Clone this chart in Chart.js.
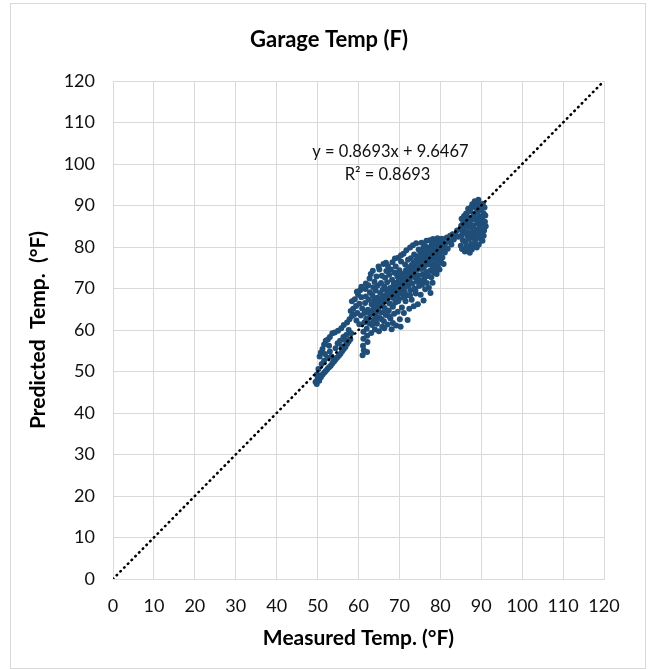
<!DOCTYPE HTML>
<html>
  <head>
    <script src="https://cdn.jsdelivr.net/npm/chart.js"></script>
    <style>
      body { margin: 0; background: #fff; }
    </style>
  </head>
  <body>
    <div style="position: relative; width: 654px; height: 669px;">
      <div style="position: absolute; left: 10px; top: 3px; width: 634px; height: 664px; border: 1px solid #D9D9D9;"></div>
      <canvas id="garage-chart" width="654" height="669"></canvas>
    </div>

    <script>
      // measured vs predicted readings as [measured, predicted]
      const lowerGroup = [
        [49.5,47.5],[49.8,47],[50,48.2],[50.4,47.8],[50.8,48.6],[51.2,49.2],[51.6,49.7],[52,50.1],[52.4,50.6],[52.8,51],
        [53.2,51.4],[53.6,51.9],[54,52.4],[54.4,52.9],[54.8,53.4],[55.2,53.8],[55.6,54.3],[56,54.9],[56.4,55.4],[56.8,55.9],
        [57.2,56.6],[57.6,57.2],[58,57.8],
        [50.5,53.6],[50.8,54.6],[51.2,55.4],[51.6,56.5],[52,57.4],[52.5,57.7],[53,58.3],[53.6,59.2],[54.2,59.4],[55,59.8],
        [55.8,60.4],[56.4,61.2],[57.2,61.8],[57.8,62.6],[58.4,63.4],
        [49.8,49.2],[50.2,50.6],[51,51.8],[51.6,52.6],[52.4,53.3],[53,54.8],[53.9,52.4],[54.4,55.6],[54.9,56.8],[55.5,57.4],
        [56.3,58.3],[57,58.8],[57.6,60],[58.2,59.2],[51.8,54.2],[52.8,56.2],[50.3,49.1],[53.4,53.6],[55.9,56.1],[56.9,57.4]
      ];

      const middleGroup = [
        [58.1,64.6],[58.4,66.9],[58.7,65.1],[58.9,63.7],[59.1,67.4],[59.4,65.8],[59.5,62.3],[59.7,64.1],[59.9,68.5],[60.2,66.3],
        [60.2,61.4],[60.4,69.6],[60.6,63.5],[60.7,67.9],[60.9,65.2],
        [61.0,53.9],[61.1,56.2],[61.2,57.9],[61.3,55.1],[61.2,59.6],[61.4,61.8],[61.5,64.1],[61.6,66.5],[61.7,69.9],[61.8,68.1],
        [61.9,62.7],[62.0,60.3],[62.1,54.7],[62.1,58.6],[62.2,57.1],[62.3,64.9],[62.4,70.8],[62.5,67.3],[62.6,61.6],[62.7,72.4],
        [62.8,69.1],[62.9,63.8],
        [63.0,73.5],[63.1,59.3],[63.2,66.2],[63.3,61.2],[63.4,68.4],[63.5,64.7],[63.6,70.3],[63.7,62.5],[63.8,67.2],[63.9,71.6],
        [64.0,60.1],[64.1,65.9],[64.2,69.5],[64.3,63.4],[64.4,72.9],[64.5,61.5],[64.6,67.8],[64.7,70.7],[64.8,64.6],[64.9,66.3],
        [65.0,59.7],[65.1,74.6],[65.2,62.9],[65.3,68.9],[65.4,66.1],[65.5,71.3],[65.6,64.2],[65.7,73.1],[65.8,60.8],[65.9,69.7],
        [66.0,67.4],[66.1,75.9],[66.2,62.1],[66.3,70.4],[66.4,65.3],[66.5,72.6],[66.6,68.3],[66.7,63.6],[66.8,74.2],[66.9,66.9],
        [66.3,60.4],
        [67.0,71.5],[67.1,61.3],[67.2,75.4],[67.3,68.8],[67.4,64.7],[67.5,73.3],[67.6,66.4],[67.7,70.1],[67.8,62.8],[67.9,74.6],
        [68.0,69.3],[68.1,60.2],[68.2,72.1],[68.3,76.3],[68.4,65.6],[68.5,67.7],[68.6,71.0],[68.7,63.9],[68.8,73.8],[68.9,69.9],
        [68.4,61.7],[67.6,68.0],
        [69.0,66.6],[69.1,75.3],[69.2,61.1],[69.3,70.7],[69.4,68.2],[69.5,72.9],[69.6,64.4],[69.7,77.4],[69.8,71.8],[69.9,67.5],
        [70.0,74.4],[70.1,62.6],[70.2,69.4],[70.3,60.8],[70.4,76.5],[70.5,71.1],[70.6,65.4],[70.7,73.5],[70.8,68.6],[70.9,70.2],
        [69.4,73.6],[70.3,72.4],[69.8,69.0],
        [71.0,78.4],[71.1,64.1],[71.2,72.7],[71.3,69.1],[71.4,75.8],[71.5,66.9],[71.6,71.4],[71.7,79.2],[71.8,73.9],[71.9,68.3],
        [72.0,62.4],[72.1,76.9],[72.2,70.5],[72.3,74.8],[72.4,65.1],[72.5,72.2],[72.6,79.9],[72.7,69.6],[72.8,77.3],[72.9,73.1],
        [71.3,70.3],[72.2,71.7],[71.6,74.4],
        [73.0,67.3],[73.1,75.7],[73.2,71.2],[73.3,80.4],[73.4,73.8],[73.5,65.7],[73.6,78.2],[73.7,70.0],[73.8,76.1],[73.9,72.6],
        [74.0,68.8],[74.1,80.9],[74.2,74.5],[74.3,71.7],[74.4,77.7],[74.5,66.2],[74.6,73.2],[74.7,79.4],[74.8,70.6],[74.9,75.9],
        [73.6,74.9],[74.3,76.4],
        [75.0,72.0],[75.1,78.8],[75.2,68.5],[75.3,74.7],[75.4,81.0],[75.5,70.9],[75.6,76.7],[75.7,73.4],[75.8,79.7],[75.9,67.1],
        [76.0,75.2],[76.1,72.5],[76.2,80.3],[76.3,69.8],[76.4,77.4],[76.5,74.0],[76.6,81.5],[76.7,71.3],[76.8,78.5],[76.9,75.8],
        [75.4,77.3],[76.2,76.1],
        [77.0,73.0],[77.1,79.9],[77.2,70.2],[77.3,76.6],[77.4,81.6],[77.5,74.3],[77.6,68.9],[77.7,78.1],[77.8,72.7],[77.9,80.6],
        [78.0,75.5],[78.1,71.4],[78.2,81.9],[78.3,77.2],[78.4,73.9],[78.5,79.6],[78.6,76.0],[78.7,81.0],[78.8,74.7],[78.9,78.4],
        [77.4,77.0],
        [79.0,80.2],[79.1,73.5],[79.2,77.8],[79.3,82.1],[79.4,75.4],[79.5,79.1],[79.6,76.8],[79.7,81.4],[79.8,74.6],[79.9,78.6],
        [80.0,80.7],[80.2,76.3],[80.3,79.3],[80.5,77.5],[80.6,81.2],[80.8,75.9],[80.9,79.9],[80.4,82.0],
        [81.1,78.7],[81.3,80.9],[81.6,82.3],[81.8,79.6],[82.1,81.4],[82.4,82.7],[82.7,80.6],[83.0,83.1],[83.3,81.8],[83.7,82.9],
        [84.1,84.0],[84.4,82.5]
      ];

      // densest readings, along the 1:1 line
      const coreGroup = [
        [62.3,62.8],[62.8,64.1],[63.2,63.9],[63.7,65.3],[64.1,64.5],[64.5,66.8],[65,65.6],[65.3,67.5],[65.8,66.4],[66.2,68.1],
        [66.6,67.2],[67,69.4],[67.3,67.9],[67.8,69.7],[68.1,68.5],[68.5,70.3],[68.9,69.2],[69.2,71.4],[69.6,70.1],[70,71.9],
        [70.3,70.8],[70.7,72.7],[71,71.6],[71.4,73.1],[71.8,72.3],[72.1,74.2],[72.5,73.5],[72.8,75.4],[73.2,74.1],[73.5,76.2],
        [73.9,74.9],[74.2,76.9],[74.6,75.6],[75,77.8],[75.3,76.4],[75.7,78.3],[76.1,77.1],[76.4,79.1],[76.8,77.7],[77.2,79.6],
        [77.5,78.4],[77.9,80.3],[78.3,79.2],[78.6,80.8],[79,79.6],[79.4,81.1],[79.8,80.1],
        [66.9,64.2],[68.3,65.9],[69.7,66.9],[71.1,67.8],[72.6,68.4],[73.9,69.6],[75.6,71.6],[76.9,73.4],[78.3,75.1],[64.2,62.2],
        [65.6,62.6],[67.5,63.3],
        [61.8,71.2],[63.5,74.3],[64.9,75.3],[66.7,76.2],[68.9,77.2],[70.4,78.0],[60.7,70.4],[59.6,69.2]
      ];

      const upperGroup = [
        [85.0,80.3],[85.1,82.7],[85.1,85.1],[85.2,86.8],[85.3,79.5],[85.4,83.9],[85.5,81.6],[85.6,86.0],[85.7,84.4],[85.8,87.5],
        [86.0,78.9],[86.1,81.2],[86.1,83.4],[86.2,85.7],[86.3,88.1],[86.4,80.1],[86.5,86.9],[86.6,82.6],[86.7,84.8],[86.8,89.2],
        [86.9,79.7],[86.4,87.9],[86.8,83.5],
        [87.0,81.9],[87.1,85.9],[87.2,78.6],[87.3,88.6],[87.4,83.2],[87.5,80.7],[87.6,87.1],[87.7,84.6],[87.8,90.3],[87.9,82.2],
        [87.3,86.3],[87.7,79.4],[87.5,89.5],
        [88.0,85.2],[88.1,80.4],[88.2,88.0],[88.3,83.7],[88.4,91.0],[88.5,81.6],[88.6,86.5],[88.7,89.4],[88.8,84.1],[88.9,79.9],
        [88.3,87.0],[88.6,82.9],[88.9,90.6],[88.1,84.6],
        [89.0,88.3],[89.1,82.4],[89.2,85.6],[89.3,91.4],[89.4,80.6],[89.5,87.4],[89.6,83.8],[89.7,90.1],[89.8,86.2],[89.9,81.9],
        [89.2,89.0],[89.6,84.9],[89.4,86.8],
        [90.0,88.9],[90.1,83.3],[90.2,86.7],[90.3,81.5],[90.4,90.4],[90.5,85.3],[90.6,88.1],[90.7,84.0],[90.8,89.5],[90.9,86.1],
        [91.0,87.6],[91.1,85.0],[90.3,87.5],[90.6,82.7]
      ];

      // 1:1 reference line
      const lineX = [0, 120];
      const lineY = [0, 120];

      const chartTitle = 'Garage Temp (F)';
      const trendText = ["y = 0.8693x + 9.6467", "R\u00B2 = 0.8693"];
      const trendTextAt = [[67.8, 102.9], [67.1, 97.5]];

      const toPoints = (pairs) => pairs.map(p => ({x: p[0], y: p[1]}));
      const points = toPoints(lowerGroup).concat(toPoints(middleGroup), toPoints(coreGroup), toPoints(upperGroup));
      const linePoints = lineX.map((x, i) => ({x: x, y: lineY[i]}));

      const fontFamily = "Lato, 'Open Sans', sans-serif";

      const textLayer = {
        id: 'textLayer',
        afterDatasetsDraw(chart) {
          const ctx = chart.ctx;
          ctx.save();
          ctx.textAlign = 'center';
          ctx.textBaseline = 'middle';
          ctx.fillStyle = '#000';
          ctx.font = "bold 22px " + fontFamily;
          ctx.fillText(chartTitle, 329, 40);
          ctx.font = "16.5px " + fontFamily;
          ctx.fillStyle = '#111';
          trendText.forEach((t, i) => {
            const px = chart.scales.x.getPixelForValue(trendTextAt[i][0]);
            const py = chart.scales.y.getPixelForValue(trendTextAt[i][1]);
            ctx.fillText(t, px, py);
          });
          ctx.restore();
        }
      };

      const garage_context = document.getElementById("garage-chart");
      garage_chart = new Chart(garage_context, {
        type: 'scatter',
        data: {
          datasets: [{
            label: '1:1',
            data: linePoints,
            showLine: true,
            pointRadius: 0,
            borderColor: '#000',
            borderWidth: 2.6,
            borderDash: [0.5, 4.8],
            borderCapStyle: 'round',
            order: 0
          }, {
            label: 'Garage',
            data: points,
            pointRadius: 3,
            pointBorderWidth: 0,
            backgroundColor: '#1F4E79',
            borderColor: '#1F4E79',
            order: 1
          }]
        },
        options: {
          responsive: false,
          animation: false,
          layout: { padding: { top: 81, left: 0, right: 50, bottom: 0 } },
          plugins: {
            legend: { display: false },
            tooltip: { enabled: false },
            title: { display: false }
          },
          scales: {
            x: {
              type: 'linear',
              min: 0, max: 120,
              ticks: { stepSize: 10, color: '#111', padding: 16, font: { family: fontFamily, size: 18 } },
              grid: { color: '#D9D9D9', drawTicks: false },
              border: { color: '#D9D9D9' },
              title: {
                display: true,
                text: 'Measured Temp. (\u00B0F)',
                color: '#000',
                font: { family: fontFamily, size: 21, weight: 'bold' },
                padding: { top: 0, bottom: 18 }
              },
              afterFit: function(scale) { scale.height = 90; }
            },
            y: {
              type: 'linear',
              min: 0, max: 120,
              ticks: { stepSize: 10, color: '#111', padding: 18, font: { family: fontFamily, size: 18 } },
              grid: { color: '#D9D9D9', drawTicks: false },
              border: { color: '#D9D9D9' },
              title: {
                display: true,
                text: 'Predicted  Temp.  (\u00B0F)',
                color: '#000',
                font: { family: fontFamily, size: 21, weight: 'bold' },
                padding: { top: 26, bottom: 0 }
              },
              afterFit: function(scale) { scale.width = 113; }
            }
          }
        },
        plugins: [textLayer]
      });
    </script>
  </body>
</html>
